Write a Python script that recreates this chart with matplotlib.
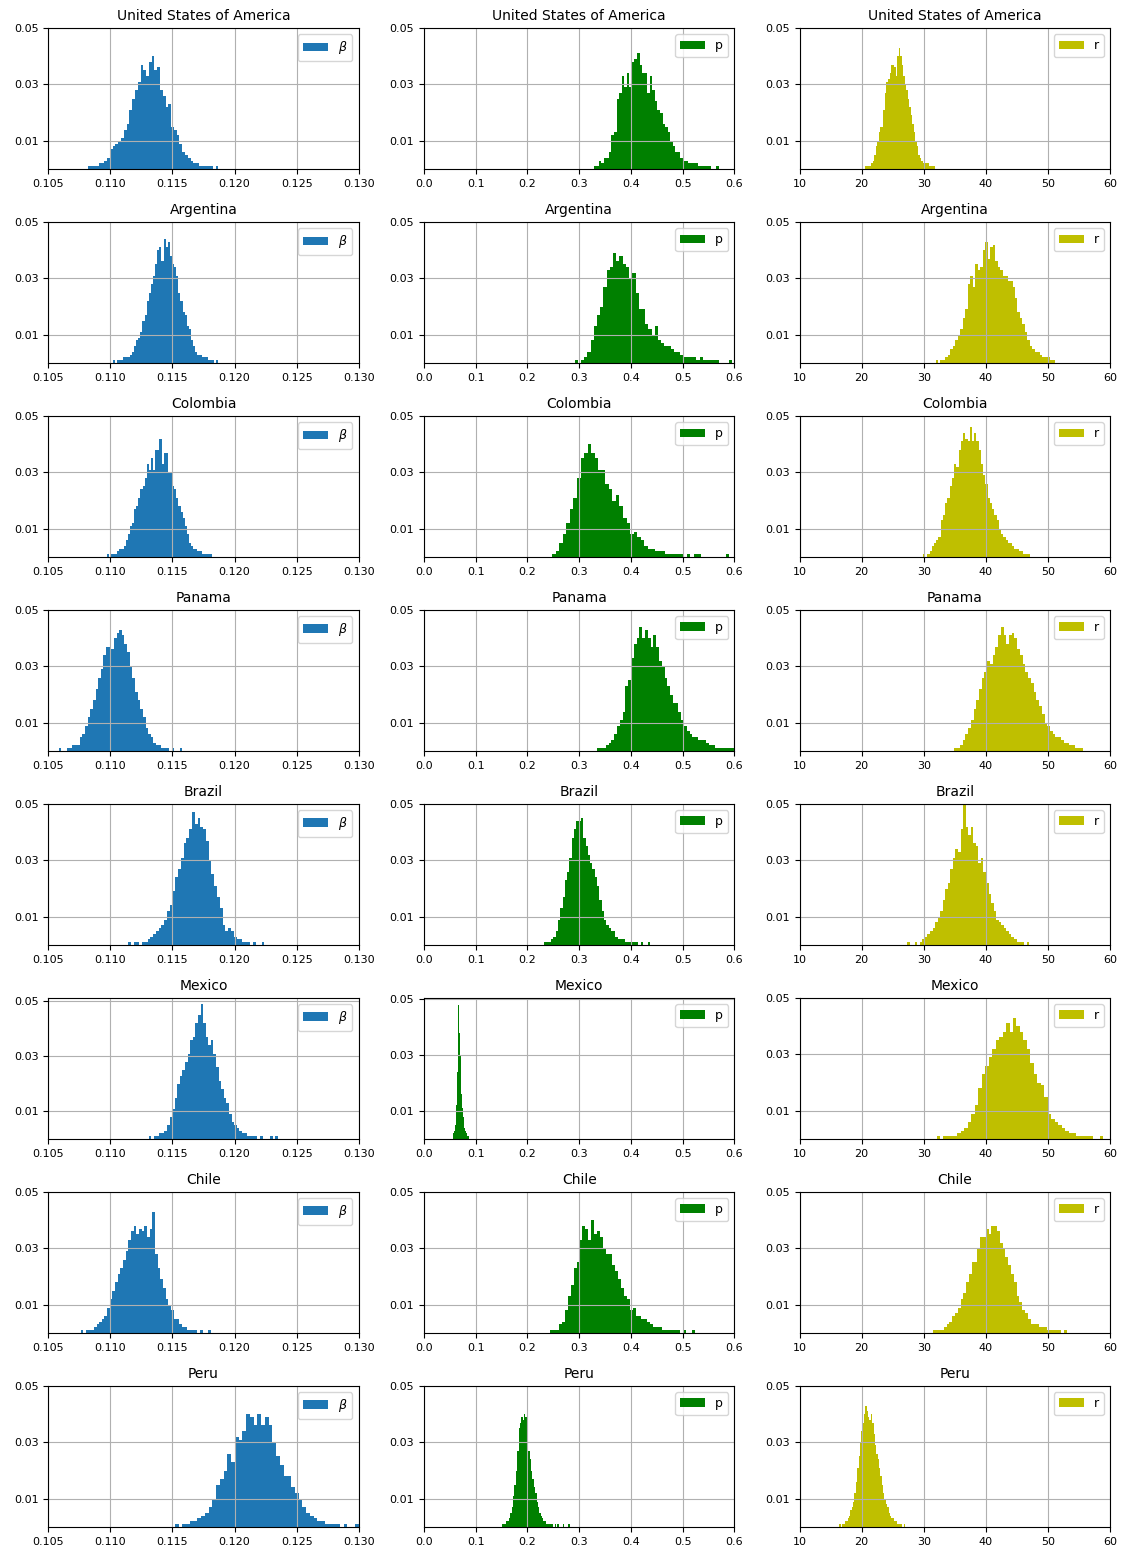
import numpy as np
import matplotlib.pyplot as plt

# Posterior samples of beta, p and r per country, shown as histograms.
# Each panel: (first edge, last edge) of the histogram and the bar heights,
# given in 1/1000 of the samples.
countries = ["United States of America", "Argentina", "Colombia", "Panama",
             "Brazil", "Mexico", "Chile", "Peru"]
params = ["beta", "p", "r"]

usa_beta_span = (0.1075, 0.1187)
usa_beta = [0, 0, 0, 1, 1, 1, 1, 2, 2, 3, 4, 7, 8, 9, 10, 11, 14, 16, 21, 25,
            28, 31, 37, 35, 33, 38, 40, 35, 36, 28, 26, 22, 23, 15, 14, 12, 9, 6, 5, 4,
            3, 2, 2, 1, 1, 1, 1, 1, 0, 1]
usa_p_span = (0.323, 0.570)
usa_p = [0, 1, 1, 3, 2, 4, 4, 6, 12, 13, 25, 27, 33, 29, 34, 29, 38, 39, 41, 37,
         34, 34, 27, 33, 28, 24, 21, 20, 16, 15, 13, 10, 8, 6, 6, 4, 3, 3, 2, 2,
         2, 2, 1, 1, 1, 1, 1, 0, 0, 1]
usa_r_span = (20.1, 32.3)
usa_r = [0, 0, 1, 1, 1, 1, 2, 3, 5, 8, 10, 13, 15, 15, 21, 27, 31, 32, 34, 37,
         37, 36, 33, 40, 43, 40, 37, 33, 30, 28, 25, 22, 19, 16, 13, 10, 8, 5, 4, 3,
         2, 2, 2, 2, 1, 1, 1, 1, 0, 0]

arg_beta_span = (0.1102, 0.1187)
arg_beta = [1, 0, 1, 1, 1, 2, 2, 2, 3, 4, 6, 8, 9, 11, 15, 17, 22, 25, 28, 31,
            35, 40, 41, 36, 44, 41, 43, 38, 35, 34, 31, 25, 22, 18, 17, 13, 12, 8, 6, 4,
            3, 3, 2, 2, 2, 1, 1, 1, 0, 1]
arg_p_span = (0.285, 0.595)
arg_p = [0, 1, 0, 1, 2, 4, 8, 13, 17, 20, 27, 33, 34, 39, 36, 38, 35, 34, 30, 32,
         25, 19, 19, 14, 12, 10, 13, 8, 7, 6, 6, 5, 4, 4, 3, 2, 2, 2, 2, 1,
         2, 1, 1, 1, 1, 1, 0, 0, 0, 1]
arg_r_span = (31.5, 51.5)
arg_r = [0, 1, 0, 1, 1, 2, 3, 5, 6, 8, 10, 12, 16, 19, 28, 31, 27, 35, 33, 34,
         40, 43, 37, 41, 42, 36, 34, 33, 31, 31, 29, 29, 27, 23, 18, 16, 14, 11, 8, 6,
         5, 4, 4, 3, 2, 2, 2, 1, 1, 0]

col_beta_span = (0.1097, 0.1182)
col_beta = [1, 0, 1, 1, 1, 2, 3, 3, 4, 6, 8, 11, 12, 17, 18, 21, 24, 25, 28, 33,
            31, 35, 31, 38, 38, 42, 33, 37, 37, 30, 30, 25, 24, 21, 18, 16, 14, 11, 8, 5,
            4, 3, 3, 2, 2, 1, 1, 1, 1, 1]
col_p_span = (0.248, 0.590)
col_p = [1, 2, 5, 8, 12, 17, 21, 28, 35, 37, 40, 37, 35, 31, 31, 26, 24, 20, 22, 18,
         14, 12, 8, 9, 7, 6, 4, 3, 3, 2, 2, 2, 1, 1, 1, 1, 1, 0, 1, 0,
         1, 1, 0, 0, 0, 0, 0, 0, 0, 1]
col_r_span = (29.5, 47.5)
col_r = [0, 1, 0, 1, 2, 4, 5, 6, 7, 13, 15, 19, 21, 25, 28, 33, 32, 38, 41, 44,
         42, 41, 46, 41, 44, 41, 38, 33, 29, 26, 21, 19, 17, 15, 13, 10, 8, 7, 6, 5,
         5, 4, 3, 3, 2, 2, 1, 1, 1, 0]

pan_beta_span = (0.1052, 0.1158)
pan_beta = [0, 0, 0, 1, 0, 0, 1, 1, 2, 2, 2, 5, 6, 9, 12, 15, 18, 22, 26, 29,
            34, 37, 37, 36, 40, 42, 43, 41, 38, 35, 30, 26, 21, 18, 15, 12, 8, 6, 5, 3,
            2, 2, 1, 1, 1, 0, 1, 0, 0, 1]
pan_p_span = (0.330, 0.600)
pan_p = [0, 1, 1, 1, 2, 3, 4, 6, 9, 11, 14, 23, 25, 33, 38, 40, 44, 40, 43, 40,
         37, 41, 37, 32, 30, 26, 23, 20, 17, 17, 14, 11, 9, 7, 6, 5, 5, 4, 4, 4,
         3, 2, 2, 1, 1, 1, 1, 1, 1, 1]
pan_r_span = (34.5, 56.5)
pan_r = [0, 1, 1, 2, 4, 6, 8, 11, 15, 18, 22, 26, 28, 32, 31, 34, 37, 41, 44, 41,
         38, 41, 42, 40, 36, 34, 31, 28, 26, 24, 21, 18, 16, 13, 10, 9, 7, 6, 5, 5,
         4, 3, 3, 2, 2, 1, 1, 1, 0, 0]

bra_beta_span = (0.1112, 0.1224)
bra_beta = [0, 1, 0, 1, 1, 0, 1, 1, 2, 3, 4, 5, 6, 7, 9, 12, 14, 19, 24, 27,
            31, 36, 38, 41, 47, 43, 45, 42, 41, 37, 30, 25, 21, 17, 13, 7, 5, 6, 5, 3,
            2, 2, 1, 1, 1, 0, 1, 0, 0, 1]
bra_p_span = (0.228, 0.450)
bra_p = [0, 1, 1, 1, 2, 3, 5, 9, 13, 17, 23, 26, 31, 38, 41, 44, 44, 45, 38, 35,
         32, 29, 27, 24, 21, 16, 12, 9, 7, 6, 5, 5, 3, 2, 2, 2, 1, 1, 1, 1,
         1, 1, 0, 1, 0, 0, 1, 0, 0, 0]
bra_r_span = (26.5, 47.0)
bra_r = [0, 0, 1, 0, 0, 1, 0, 1, 2, 3, 4, 5, 6, 8, 10, 12, 16, 20, 22, 27,
         31, 34, 33, 41, 50, 42, 39, 42, 36, 35, 29, 31, 26, 22, 18, 15, 12, 9, 8, 7,
         6, 5, 4, 3, 2, 1, 1, 1, 0, 1]

mex_beta_span = (0.1131, 0.1235)
mex_beta = [1, 0, 1, 1, 2, 2, 3, 5, 8, 11, 15, 20, 23, 25, 28, 31, 36, 37, 42, 45,
            49, 42, 37, 34, 36, 31, 26, 21, 18, 15, 13, 9, 6, 5, 4, 3, 2, 2, 1, 1,
            1, 1, 0, 1, 0, 0, 0, 1, 0, 1]
mex_p_span = (0.054, 0.088)
mex_p = [0, 1, 2, 3, 5, 8, 12, 24, 40, 48, 38, 30, 22, 16, 11, 8, 6, 4, 3, 2,
         2, 1, 1, 1]
mex_r_span = (31.5, 59.5)
mex_r = [0, 1, 0, 1, 1, 1, 1, 2, 3, 4, 6, 9, 12, 18, 23, 26, 29, 32, 35, 36,
         38, 41, 38, 43, 40, 38, 35, 32, 27, 23, 20, 19, 15, 9, 7, 6, 5, 4, 3, 2,
         2, 1, 1, 1, 1, 1, 0, 0, 1, 0]

chi_beta_span = (0.1076, 0.1183)
chi_beta = [1, 0, 1, 1, 1, 2, 3, 4, 5, 6, 9, 12, 15, 18, 21, 23, 26, 29, 33, 36,
            38, 35, 37, 36, 38, 34, 37, 43, 28, 23, 19, 16, 12, 10, 8, 5, 5, 3, 2, 2,
            1, 1, 1, 1, 0, 1, 0, 0, 1, 0]
chi_p_span = (0.238, 0.523)
chi_p = [0, 1, 1, 1, 3, 4, 8, 13, 17, 23, 25, 33, 38, 37, 33, 40, 35, 36, 34, 30,
         28, 28, 24, 22, 19, 16, 13, 12, 8, 9, 6, 6, 5, 5, 4, 3, 2, 2, 2, 1,
         1, 1, 1, 1, 1, 0, 1, 0, 0, 1]
chi_r_span = (31.0, 53.5)
chi_r = [0, 1, 1, 1, 1, 2, 3, 4, 6, 7, 9, 12, 14, 18, 21, 25, 25, 30, 34, 34,
         37, 35, 38, 38, 36, 32, 30, 27, 24, 21, 18, 13, 11, 8, 7, 5, 3, 3, 3, 2,
         2, 2, 1, 1, 1, 1, 1, 0, 1, 0]

per_beta_span = (0.1149, 0.1300)
per_beta = [0, 1, 0, 1, 1, 2, 2, 3, 4, 5, 7, 10, 15, 17, 20, 26, 23, 32, 31, 34,
            40, 39, 36, 40, 36, 39, 36, 30, 25, 22, 18, 18, 14, 12, 10, 7, 5, 4, 3, 2,
            2, 1, 1, 1, 1, 0, 1, 0, 0, 1]
per_p_span = (0.148, 0.282)
per_p = [0, 1, 1, 1, 2, 2, 3, 5, 7, 11, 15, 20, 27, 35, 37, 39, 38, 40, 39, 33,
         27, 24, 20, 17, 14, 12, 9, 7, 5, 4, 3, 2, 2, 1, 1, 1, 1, 1, 0, 1,
         0, 1, 0, 0, 0, 1, 0, 0, 0, 1]
per_r_span = (16.2, 27.2)
per_r = [0, 1, 0, 1, 1, 2, 2, 3, 4, 6, 7, 9, 12, 16, 21, 25, 30, 34, 37, 40,
         43, 41, 39, 38, 40, 37, 33, 29, 26, 24, 21, 18, 15, 12, 10, 8, 7, 5, 4, 3,
         3, 2, 2, 1, 1, 1, 1, 0, 1, 0]

hists = {
    "United States of America": [(usa_beta_span, usa_beta), (usa_p_span, usa_p), (usa_r_span, usa_r)],
    "Argentina": [(arg_beta_span, arg_beta), (arg_p_span, arg_p), (arg_r_span, arg_r)],
    "Colombia": [(col_beta_span, col_beta), (col_p_span, col_p), (col_r_span, col_r)],
    "Panama": [(pan_beta_span, pan_beta), (pan_p_span, pan_p), (pan_r_span, pan_r)],
    "Brazil": [(bra_beta_span, bra_beta), (bra_p_span, bra_p), (bra_r_span, bra_r)],
    "Mexico": [(mex_beta_span, mex_beta), (mex_p_span, mex_p), (mex_r_span, mex_r)],
    "Chile": [(chi_beta_span, chi_beta), (chi_p_span, chi_p), (chi_r_span, chi_r)],
    "Peru": [(per_beta_span, per_beta), (per_p_span, per_p), (per_r_span, per_r)],
}

labels = {"beta": r"$\beta$", "p": "p", "r": "r"}
colors = {"beta": "tab:blue", "p": "g", "r": "y"}
xlims = {"beta": (0.105, 0.130), "p": (0.0, 0.6), "r": (10, 60)}
# the Mexico panels were autoscaled a little above 0.05
ytops = {("Mexico", "beta"): 0.0512, ("Mexico", "p"): 0.0504}

fig, axes = plt.subplots(8, 3, figsize=(11.36, 15.48), dpi=100)
fig.subplots_adjust(left=0.0425, right=0.9771, top=0.9819, bottom=0.0136,
                    wspace=0.21, hspace=0.376)

for i, country in enumerate(countries):
    for j, par in enumerate(params):
        ax = axes[i, j]
        (lo, hi), heights = hists[country][j]
        edges = np.linspace(lo, hi, len(heights) + 1)
        ax.hist(edges[:-1], bins=edges, weights=np.array(heights) / 1000.0,
                color=colors[par], label=labels[par])
        ax.set_xlim(*xlims[par])
        ax.set_ylim(0, ytops.get((country, par), 0.05))
        ax.set_yticks([0.01, 0.03, 0.05])
        ax.tick_params(labelsize=8)
        ax.grid(True)
        ax.legend(loc="upper right", fontsize=9)
        ax.set_title(country, fontsize=10)

plt.savefig("out.png", dpi=100)
plt.close()
